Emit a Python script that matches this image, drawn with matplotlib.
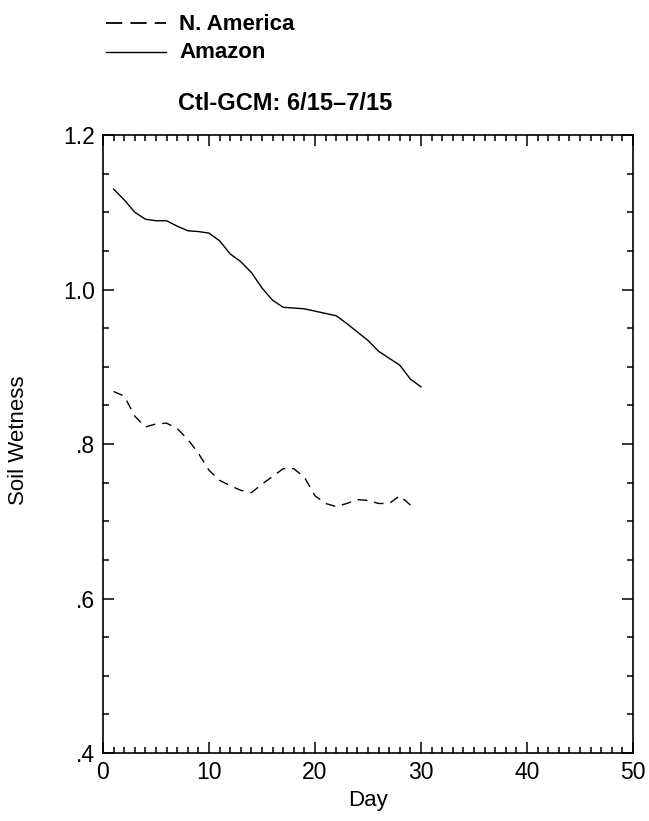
import numpy as np
import matplotlib.pyplot as plt
from matplotlib.lines import Line2D
from matplotlib.ticker import MultipleLocator, FixedFormatter, FixedLocator

plt.rcParams["font.family"] = ["Liberation Sans", "DejaVu Sans"]

# soil wetness, one value per model day
amazon_days = np.arange(1, 31)
amazon = [1.130, 1.116, 1.100, 1.091, 1.089, 1.089, 1.082, 1.076, 1.075, 1.073,
          1.063, 1.046, 1.036, 1.022, 1.002, 0.986, 0.977, 0.976, 0.975, 0.972,
          0.969, 0.966, 0.956, 0.945, 0.934, 0.920, 0.911, 0.902, 0.884, 0.874]

namerica_days = np.arange(1, 30)
namerica = [0.868, 0.862, 0.836, 0.822, 0.826, 0.827, 0.820, 0.806, 0.788, 0.766,
            0.753, 0.746, 0.740, 0.737, 0.748, 0.758, 0.768, 0.768, 0.757, 0.733,
            0.723, 0.719, 0.723, 0.728, 0.727, 0.723, 0.723, 0.733, 0.721]

y_ticks = [0.4, 0.6, 0.8, 1.0, 1.2]
y_labels = [".4", ".6", ".8", "1.0", "1.2"]
x_ticks = [0, 10, 20, 30, 40, 50]

W, H = 649, 821
fig = plt.figure(figsize=(W / 100, H / 100), dpi=100)
ax = fig.add_axes([103 / W, (H - 753) / H, (633 - 103) / W, (753 - 135) / H])

dash = (7, 5)
ax.plot(namerica_days, namerica, color="black", lw=1.0, ls=(0, dash))
ax.plot(amazon_days, amazon, color="black", lw=1.0)

ax.set_xlim(0, 50)
ax.set_ylim(0.4, 1.2)
ax.xaxis.set_major_locator(FixedLocator(x_ticks))
ax.xaxis.set_minor_locator(MultipleLocator(1))
ax.yaxis.set_major_locator(FixedLocator(y_ticks))
ax.yaxis.set_major_formatter(FixedFormatter(y_labels))
ax.yaxis.set_minor_locator(MultipleLocator(0.05))
ax.tick_params(which="both", direction="in", top=True, right=True, width=1.1)
ax.tick_params(which="major", length=8, labelsize=16.5, pad=6)
ax.tick_params(which="minor", length=4.5)
for s in ax.spines.values():
    s.set_linewidth(1.2)

fig.text(368 / W, 1 - 800 / H, "Day", ha="center", va="center", fontsize=16)
fig.text(19 / W, 1 - 440 / H, "Soil Wetness", ha="center", va="center",
         rotation=90, fontsize=16)

# legend drawn in figure pixels above the axes
fig.add_artist(Line2D([106 / W, 166 / W], [1 - 23 / H, 1 - 23 / H], color="black",
                      lw=1.3, ls=(0, (9, 4.5)), transform=fig.transFigure))
fig.add_artist(Line2D([106 / W, 166 / W], [1 - 52 / H, 1 - 52 / H], color="black",
                      lw=1.0, transform=fig.transFigure))
fig.text(179 / W, 1 - 24 / H, "N. America", ha="left", va="center",
         fontsize=16, fontweight="bold")
fig.text(179 / W, 1 - 53 / H, "Amazon", ha="left", va="center",
         fontsize=16, fontweight="bold")
fig.text(178 / W, 1 - 103 / H, "Ctl-GCM: 6/15\u20137/15", ha="left", va="center",
         fontsize=17, fontweight="bold")

fig.savefig("out.png", dpi=100)
